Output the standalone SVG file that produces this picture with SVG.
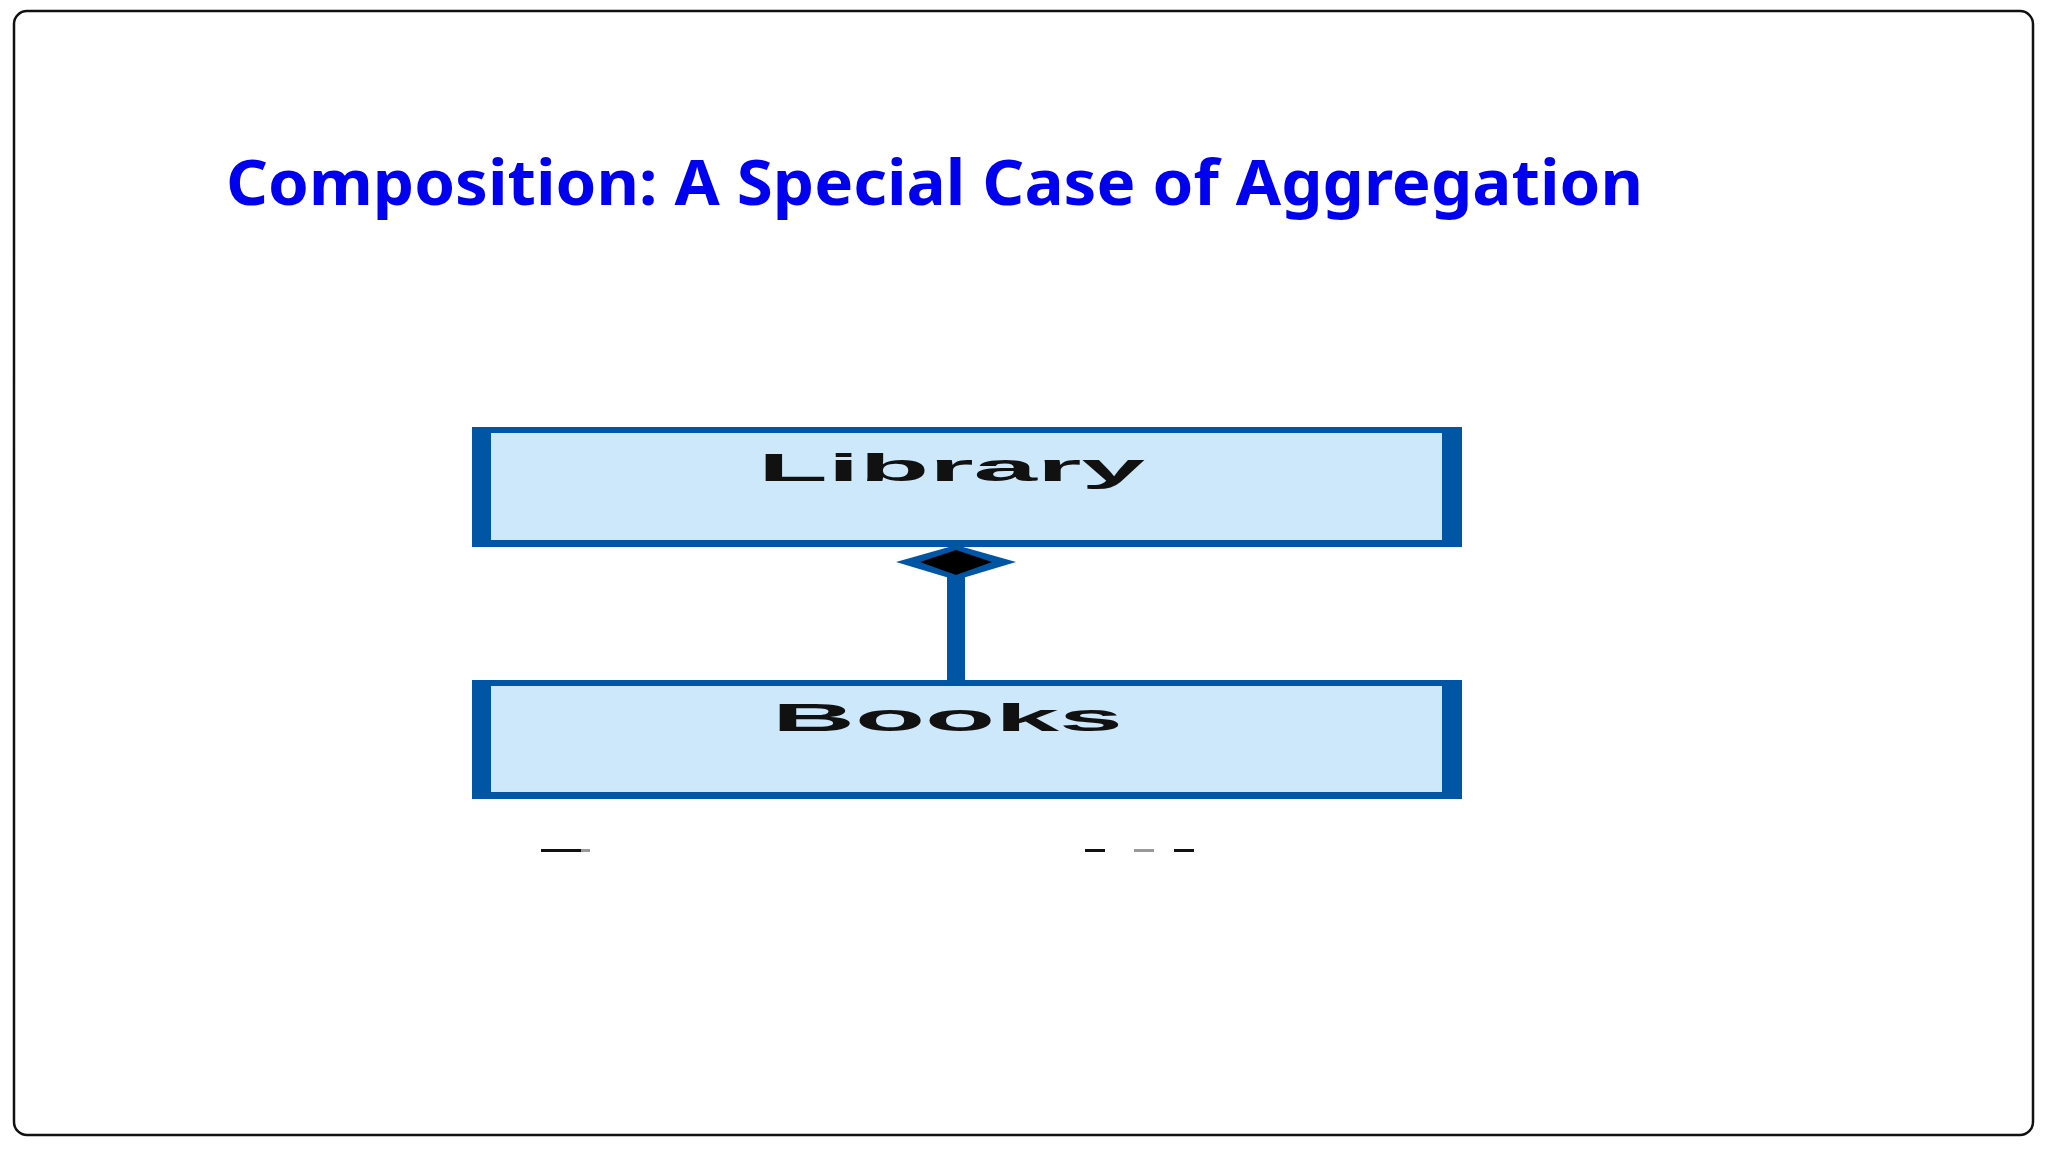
<svg xmlns="http://www.w3.org/2000/svg" width="2048" height="1152" viewBox="0 0 2048 1152">
  <style>
    .frame { fill: #ffffff; stroke: #111111; stroke-width: 2.5; }
    .title { font-family: "Noto Sans", "Open Sans", sans-serif; font-weight: 700; font-size: 62px; fill: #0000EE; }
    .border { fill: #0055A4; }
    .inner { fill: #CCE8FA; }
    .label { font-family: "Liberation Sans", Arial, sans-serif; font-weight: 700; font-size: 38px; fill: #111111; }
    .dash { fill: #111111; }
  </style>
  <rect class="frame" x="14" y="11" width="2019" height="1124" rx="13" ry="13"/>
  <text class="title" x="226" y="205" textLength="1417" lengthAdjust="spacingAndGlyphs">Composition: A Special Case of Aggregation</text>

  <g id="library">
    <rect class="border" x="472" y="427" width="990" height="120"/>
    <rect class="inner" x="491" y="433" width="951" height="107"/>
    <text class="label" x="758" y="481" textLength="387" lengthAdjust="spacingAndGlyphs">Library</text>
  </g>

  <g id="books">
    <rect class="border" x="472" y="680" width="990" height="119"/>
    <rect class="inner" x="491" y="686" width="951" height="106"/>
    <text class="label" x="772" y="731" textLength="351" lengthAdjust="spacingAndGlyphs">Books</text>
  </g>

  <g id="connectors">
    <rect class="border" x="947" y="568" width="18" height="114"/>
    <polygon class="border" points="896,562 956,545 1016,562 956,580"/>
    <polygon fill="#000000" points="920,562 956,550 992,562 956,575"/>
  </g>

  <g id="fragments">
    <rect class="dash" x="541" y="849" width="40" height="3"/>
    <rect fill="#999999" x="581" y="849" width="9" height="3"/>
    <rect class="dash" x="1085" y="849" width="20" height="3"/>
    <rect fill="#999999" x="1134" y="849" width="20" height="3"/>
    <rect class="dash" x="1174" y="849" width="20" height="3"/>
  </g>
</svg>
